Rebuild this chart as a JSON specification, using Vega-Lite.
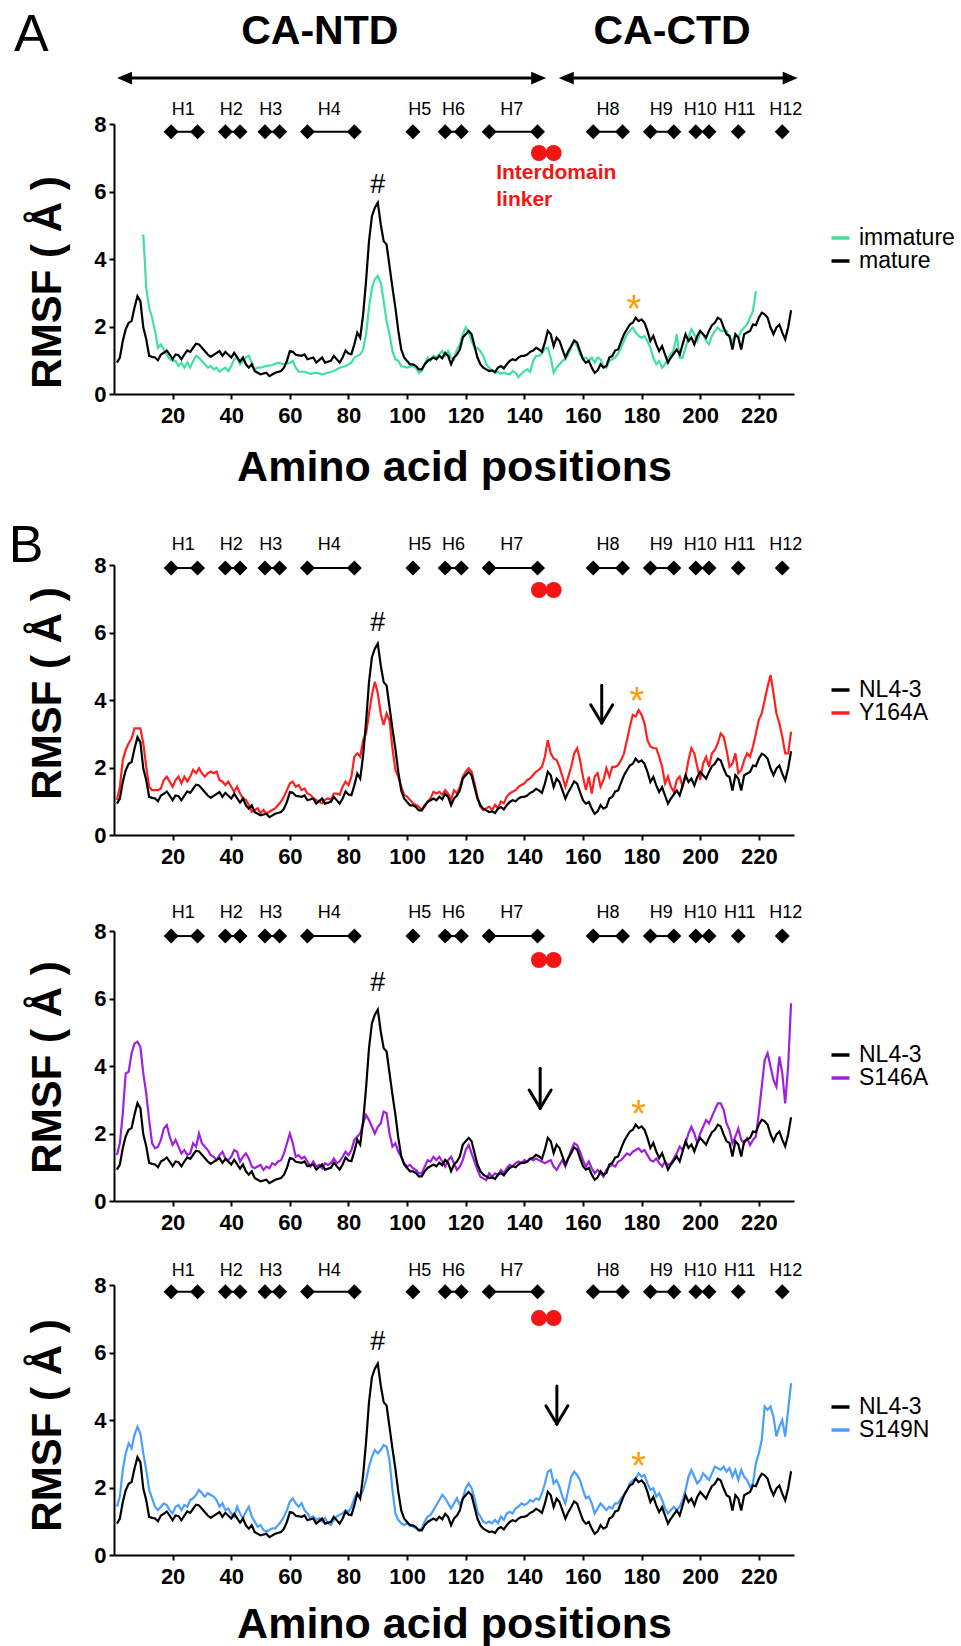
{
"$schema": "https://vega.github.io/schema/vega-lite/v6.json",
"padding": {"left": 8, "top": 0, "right": 0, "bottom": 2},
"bounds": "flush",
"spacing": 0,
"resolve": {"scale": {"x": "independent", "y": "independent", "color": "independent"}, "legend": {"color": "independent"}},
"config": {
  "view": {"stroke": null, "fill": "transparent"},
  "font": "Liberation Sans",
  "axis": {"domainColor": "#000", "domainWidth": 2, "tickColor": "#000", "tickWidth": 2, "tickSize": 5, "grid": false, "labelFont": "Liberation Sans", "labelFontWeight": "bold", "labelFontSize": 22, "labelColor": "#000", "titleColor": "#000", "labelOverlap": false, "labelFlush": false},
  "legend": {"title": null, "orient": "none", "symbolType": "stroke", "symbolStrokeWidth": 3.5, "symbolSize": 324, "labelFontSize": 23, "labelFont": "Liberation Sans", "labelOffset": 7, "rowPadding": 0, "clipHeight": 20, "padding": 0, "labelColor": "#000"},
  "text": {"font": "Liberation Sans", "color": "#000"}
},
"datasets": {
  "mature": [{"r":1,"v":0.93},{"r":2,"v":1.08},{"r":3,"v":1.57},{"r":4,"v":1.92},{"r":5,"v":2.11},{"r":6,"v":2.16},{"r":7,"v":2.56},{"r":8,"v":2.9},{"r":9,"v":2.75},{"r":10,"v":1.97},{"r":11,"v":1.62},{"r":12,"v":1.13},{"r":13,"v":1.1},{"r":14,"v":1.08},{"r":15,"v":1.0},{"r":16,"v":1.17},{"r":17,"v":1.22},{"r":18,"v":1.29},{"r":19,"v":1.17},{"r":20,"v":1.03},{"r":21,"v":1.17},{"r":22,"v":1.15},{"r":23,"v":1.03},{"r":24,"v":1.17},{"r":25,"v":1.29},{"r":26,"v":1.25},{"r":27,"v":1.37},{"r":28,"v":1.49},{"r":29,"v":1.47},{"r":30,"v":1.37},{"r":32,"v":1.17},{"r":33,"v":1.1},{"r":34,"v":1.16},{"r":36,"v":1.27},{"r":37,"v":1.13},{"r":38,"v":1.25},{"r":40,"v":1.08},{"r":41,"v":1.22},{"r":43,"v":0.96},{"r":44,"v":1.08},{"r":45,"v":0.88},{"r":46,"v":0.78},{"r":47,"v":0.88},{"r":48,"v":0.68},{"r":50,"v":0.58},{"r":52,"v":0.63},{"r":53,"v":0.53},{"r":55,"v":0.63},{"r":57,"v":0.68},{"r":58,"v":0.78},{"r":59,"v":0.98},{"r":60,"v":1.27},{"r":61,"v":1.25},{"r":62,"v":1.16},{"r":64,"v":1.13},{"r":65,"v":1.17},{"r":66,"v":1.03},{"r":68,"v":1.08},{"r":69,"v":0.93},{"r":71,"v":1.08},{"r":72,"v":0.93},{"r":74,"v":0.98},{"r":75,"v":1.13},{"r":77,"v":0.93},{"r":78,"v":1.08},{"r":79,"v":1.29},{"r":80,"v":1.2},{"r":81,"v":1.18},{"r":82,"v":1.47},{"r":83,"v":1.82},{"r":84,"v":1.67},{"r":85,"v":2.36},{"r":86,"v":3.35},{"r":87,"v":4.53},{"r":88,"v":5.27},{"r":89,"v":5.52},{"r":90,"v":5.67},{"r":91,"v":5.03},{"r":92,"v":4.53},{"r":93,"v":4.43},{"r":94,"v":3.79},{"r":95,"v":3.15},{"r":96,"v":2.56},{"r":97,"v":1.87},{"r":98,"v":1.32},{"r":99,"v":1.08},{"r":100,"v":0.98},{"r":101,"v":0.88},{"r":102,"v":0.88},{"r":103,"v":0.83},{"r":104,"v":0.73},{"r":105,"v":0.73},{"r":106,"v":0.88},{"r":107,"v":0.98},{"r":108,"v":1.03},{"r":109,"v":1.08},{"r":110,"v":1.03},{"r":111,"v":1.13},{"r":112,"v":1.06},{"r":113,"v":1.22},{"r":114,"v":1.13},{"r":115,"v":0.88},{"r":116,"v":1.08},{"r":117,"v":1.17},{"r":118,"v":1.32},{"r":119,"v":1.67},{"r":120,"v":1.77},{"r":121,"v":1.87},{"r":122,"v":1.77},{"r":123,"v":1.42},{"r":124,"v":1.08},{"r":125,"v":0.88},{"r":126,"v":0.78},{"r":127,"v":0.73},{"r":128,"v":0.68},{"r":129,"v":0.7},{"r":130,"v":0.65},{"r":131,"v":0.78},{"r":132,"v":0.83},{"r":133,"v":0.76},{"r":134,"v":0.88},{"r":135,"v":0.98},{"r":136,"v":1.03},{"r":137,"v":1.0},{"r":138,"v":1.08},{"r":139,"v":1.13},{"r":140,"v":1.13},{"r":141,"v":1.17},{"r":142,"v":1.25},{"r":143,"v":1.29},{"r":144,"v":1.37},{"r":145,"v":1.32},{"r":146,"v":1.25},{"r":147,"v":1.52},{"r":148,"v":1.87},{"r":149,"v":1.77},{"r":150,"v":1.42},{"r":151,"v":1.67},{"r":152,"v":1.57},{"r":153,"v":1.32},{"r":154,"v":1.08},{"r":155,"v":1.27},{"r":156,"v":1.42},{"r":157,"v":1.59},{"r":158,"v":1.52},{"r":159,"v":1.27},{"r":160,"v":1.03},{"r":161,"v":0.93},{"r":162,"v":0.98},{"r":163,"v":0.78},{"r":164,"v":0.63},{"r":165,"v":0.7},{"r":166,"v":0.88},{"r":167,"v":0.78},{"r":168,"v":0.83},{"r":169,"v":1.08},{"r":170,"v":1.13},{"r":171,"v":1.29},{"r":172,"v":1.32},{"r":173,"v":1.55},{"r":174,"v":1.77},{"r":175,"v":1.92},{"r":176,"v":2.06},{"r":177,"v":2.11},{"r":178,"v":2.26},{"r":179,"v":2.16},{"r":180,"v":2.21},{"r":181,"v":2.11},{"r":182,"v":1.87},{"r":183,"v":1.57},{"r":184,"v":1.72},{"r":185,"v":1.47},{"r":186,"v":1.27},{"r":187,"v":1.42},{"r":188,"v":1.17},{"r":189,"v":0.93},{"r":190,"v":1.08},{"r":191,"v":1.2},{"r":192,"v":1.32},{"r":193,"v":1.17},{"r":194,"v":1.47},{"r":195,"v":1.77},{"r":196,"v":1.57},{"r":197,"v":1.67},{"r":198,"v":1.47},{"r":199,"v":1.72},{"r":200,"v":1.87},{"r":201,"v":1.77},{"r":202,"v":1.67},{"r":203,"v":1.87},{"r":204,"v":2.04},{"r":205,"v":2.11},{"r":206,"v":2.26},{"r":207,"v":2.21},{"r":208,"v":1.97},{"r":209,"v":1.77},{"r":210,"v":1.72},{"r":211,"v":1.32},{"r":212,"v":1.77},{"r":213,"v":1.67},{"r":214,"v":1.32},{"r":215,"v":1.77},{"r":216,"v":1.82},{"r":217,"v":1.87},{"r":218,"v":2.06},{"r":219,"v":2.04},{"r":220,"v":2.26},{"r":221,"v":2.41},{"r":222,"v":2.36},{"r":223,"v":2.26},{"r":224,"v":1.97},{"r":225,"v":1.77},{"r":226,"v":1.97},{"r":227,"v":2.06},{"r":228,"v":1.82},{"r":229,"v":1.62},{"r":230,"v":1.97},{"r":231,"v":2.48}],
  "immature": [{"r":10,"v":4.73},{"r":11,"v":3.15},{"r":12,"v":2.56},{"r":13,"v":2.26},{"r":14,"v":1.87},{"r":15,"v":1.37},{"r":16,"v":1.47},{"r":17,"v":1.32},{"r":18,"v":1.17},{"r":19,"v":1.03},{"r":20,"v":0.98},{"r":21,"v":0.98},{"r":22,"v":0.83},{"r":23,"v":0.93},{"r":24,"v":0.78},{"r":25,"v":0.93},{"r":26,"v":0.78},{"r":27,"v":0.98},{"r":28,"v":1.13},{"r":29,"v":1.08},{"r":30,"v":0.98},{"r":31,"v":0.88},{"r":32,"v":0.78},{"r":33,"v":0.83},{"r":34,"v":0.73},{"r":35,"v":0.78},{"r":36,"v":0.66},{"r":37,"v":0.73},{"r":38,"v":0.78},{"r":39,"v":0.68},{"r":40,"v":0.83},{"r":41,"v":1.03},{"r":42,"v":1.08},{"r":43,"v":0.88},{"r":44,"v":0.98},{"r":45,"v":1.08},{"r":46,"v":1.13},{"r":47,"v":0.93},{"r":48,"v":0.73},{"r":49,"v":0.78},{"r":50,"v":0.78},{"r":52,"v":0.83},{"r":54,"v":0.86},{"r":56,"v":0.93},{"r":58,"v":0.88},{"r":60,"v":0.93},{"r":61,"v":0.98},{"r":62,"v":0.78},{"r":63,"v":0.66},{"r":65,"v":0.66},{"r":67,"v":0.6},{"r":69,"v":0.63},{"r":71,"v":0.58},{"r":73,"v":0.63},{"r":75,"v":0.68},{"r":77,"v":0.78},{"r":79,"v":0.83},{"r":80,"v":0.88},{"r":81,"v":0.93},{"r":82,"v":1.08},{"r":83,"v":1.13},{"r":84,"v":1.17},{"r":85,"v":1.32},{"r":86,"v":1.77},{"r":87,"v":2.56},{"r":88,"v":3.15},{"r":89,"v":3.4},{"r":90,"v":3.5},{"r":91,"v":3.3},{"r":92,"v":2.76},{"r":93,"v":2.16},{"r":94,"v":1.77},{"r":95,"v":1.27},{"r":96,"v":1.03},{"r":97,"v":0.98},{"r":98,"v":0.83},{"r":100,"v":0.78},{"r":102,"v":0.83},{"r":103,"v":0.78},{"r":104,"v":0.63},{"r":105,"v":0.68},{"r":106,"v":0.88},{"r":107,"v":1.08},{"r":108,"v":0.98},{"r":109,"v":1.13},{"r":110,"v":1.08},{"r":111,"v":1.18},{"r":112,"v":1.27},{"r":113,"v":1.13},{"r":114,"v":1.27},{"r":115,"v":1.08},{"r":116,"v":1.03},{"r":117,"v":1.32},{"r":118,"v":1.47},{"r":119,"v":1.77},{"r":120,"v":1.97},{"r":121,"v":1.82},{"r":122,"v":1.57},{"r":123,"v":1.37},{"r":124,"v":1.37},{"r":125,"v":1.27},{"r":126,"v":1.13},{"r":127,"v":0.88},{"r":128,"v":0.78},{"r":129,"v":0.7},{"r":130,"v":0.63},{"r":131,"v":0.66},{"r":132,"v":0.6},{"r":133,"v":0.63},{"r":134,"v":0.6},{"r":135,"v":0.58},{"r":136,"v":0.68},{"r":137,"v":0.63},{"r":138,"v":0.5},{"r":139,"v":0.6},{"r":140,"v":0.68},{"r":141,"v":0.73},{"r":142,"v":0.66},{"r":143,"v":0.98},{"r":144,"v":1.13},{"r":145,"v":1.13},{"r":146,"v":1.2},{"r":147,"v":1.35},{"r":148,"v":1.37},{"r":149,"v":1.08},{"r":150,"v":0.63},{"r":151,"v":0.78},{"r":152,"v":0.88},{"r":153,"v":0.98},{"r":154,"v":1.03},{"r":155,"v":1.17},{"r":156,"v":1.37},{"r":157,"v":1.57},{"r":158,"v":1.42},{"r":159,"v":1.17},{"r":160,"v":1.03},{"r":161,"v":1.08},{"r":162,"v":0.98},{"r":163,"v":1.08},{"r":164,"v":0.93},{"r":165,"v":1.08},{"r":166,"v":1.03},{"r":167,"v":0.83},{"r":168,"v":0.78},{"r":169,"v":0.98},{"r":170,"v":1.03},{"r":171,"v":1.08},{"r":172,"v":1.2},{"r":173,"v":1.37},{"r":174,"v":1.57},{"r":175,"v":1.77},{"r":176,"v":1.87},{"r":177,"v":1.97},{"r":178,"v":1.82},{"r":179,"v":1.72},{"r":180,"v":1.67},{"r":181,"v":1.72},{"r":182,"v":1.57},{"r":183,"v":1.37},{"r":184,"v":1.08},{"r":185,"v":0.88},{"r":186,"v":0.98},{"r":187,"v":0.78},{"r":188,"v":0.88},{"r":189,"v":1.08},{"r":190,"v":1.17},{"r":191,"v":1.32},{"r":192,"v":1.77},{"r":193,"v":1.08},{"r":194,"v":1.08},{"r":195,"v":1.37},{"r":196,"v":1.67},{"r":197,"v":1.92},{"r":198,"v":1.77},{"r":199,"v":1.57},{"r":200,"v":1.82},{"r":201,"v":1.77},{"r":202,"v":1.57},{"r":203,"v":1.47},{"r":204,"v":1.72},{"r":205,"v":1.87},{"r":206,"v":1.97},{"r":207,"v":1.87},{"r":208,"v":1.87},{"r":209,"v":1.87},{"r":210,"v":1.67},{"r":211,"v":1.57},{"r":212,"v":1.77},{"r":213,"v":1.67},{"r":214,"v":1.87},{"r":215,"v":1.97},{"r":216,"v":2.06},{"r":217,"v":2.26},{"r":218,"v":2.46},{"r":219,"v":3.05}],
  "y164a": [{"r":1,"v":1.04},{"r":2,"v":1.43},{"r":3,"v":2.22},{"r":4,"v":2.52},{"r":5,"v":2.72},{"r":6,"v":2.86},{"r":7,"v":3.16},{"r":8,"v":3.16},{"r":9,"v":3.16},{"r":10,"v":2.72},{"r":11,"v":2.02},{"r":12,"v":1.43},{"r":13,"v":1.33},{"r":14,"v":1.33},{"r":15,"v":1.33},{"r":16,"v":1.38},{"r":17,"v":1.63},{"r":18,"v":1.73},{"r":19,"v":1.58},{"r":20,"v":1.43},{"r":21,"v":1.63},{"r":22,"v":1.73},{"r":23,"v":1.53},{"r":24,"v":1.73},{"r":25,"v":1.58},{"r":26,"v":1.73},{"r":27,"v":1.93},{"r":28,"v":1.83},{"r":29,"v":1.98},{"r":30,"v":1.83},{"r":31,"v":1.73},{"r":32,"v":1.83},{"r":33,"v":1.88},{"r":34,"v":1.83},{"r":35,"v":1.88},{"r":36,"v":1.63},{"r":37,"v":1.58},{"r":38,"v":1.48},{"r":39,"v":1.58},{"r":40,"v":1.43},{"r":41,"v":1.28},{"r":42,"v":1.43},{"r":43,"v":1.23},{"r":44,"v":1.09},{"r":45,"v":1.04},{"r":46,"v":0.89},{"r":47,"v":0.69},{"r":48,"v":0.74},{"r":49,"v":0.79},{"r":50,"v":0.64},{"r":51,"v":0.74},{"r":52,"v":0.64},{"r":53,"v":0.69},{"r":54,"v":0.74},{"r":55,"v":0.79},{"r":56,"v":0.89},{"r":57,"v":0.99},{"r":58,"v":1.14},{"r":59,"v":1.33},{"r":60,"v":1.53},{"r":61,"v":1.58},{"r":62,"v":1.43},{"r":63,"v":1.48},{"r":64,"v":1.33},{"r":65,"v":1.38},{"r":66,"v":1.23},{"r":67,"v":1.19},{"r":68,"v":1.09},{"r":69,"v":1.04},{"r":70,"v":0.99},{"r":71,"v":0.94},{"r":72,"v":1.04},{"r":73,"v":1.09},{"r":74,"v":1.04},{"r":75,"v":1.23},{"r":76,"v":1.23},{"r":77,"v":1.19},{"r":78,"v":1.43},{"r":79,"v":1.58},{"r":80,"v":1.48},{"r":81,"v":1.73},{"r":82,"v":2.32},{"r":83,"v":2.42},{"r":84,"v":2.32},{"r":85,"v":2.81},{"r":86,"v":3.01},{"r":87,"v":3.6},{"r":88,"v":4.15},{"r":89,"v":4.54},{"r":90,"v":4.2},{"r":91,"v":3.6},{"r":92,"v":3.26},{"r":93,"v":3.6},{"r":94,"v":3.4},{"r":95,"v":2.57},{"r":96,"v":1.93},{"r":97,"v":1.73},{"r":98,"v":1.43},{"r":99,"v":1.19},{"r":100,"v":1.14},{"r":101,"v":1.04},{"r":102,"v":0.94},{"r":103,"v":0.89},{"r":104,"v":0.84},{"r":105,"v":0.74},{"r":106,"v":0.84},{"r":107,"v":0.99},{"r":108,"v":1.09},{"r":109,"v":1.28},{"r":110,"v":1.23},{"r":111,"v":1.28},{"r":112,"v":1.19},{"r":113,"v":1.33},{"r":114,"v":1.23},{"r":115,"v":1.04},{"r":116,"v":1.33},{"r":117,"v":1.23},{"r":118,"v":1.43},{"r":119,"v":1.73},{"r":120,"v":1.88},{"r":121,"v":1.98},{"r":122,"v":1.88},{"r":123,"v":1.53},{"r":124,"v":1.14},{"r":125,"v":0.84},{"r":126,"v":0.74},{"r":127,"v":0.79},{"r":128,"v":0.84},{"r":129,"v":0.74},{"r":130,"v":0.89},{"r":131,"v":0.79},{"r":132,"v":0.99},{"r":133,"v":0.94},{"r":134,"v":1.14},{"r":135,"v":1.23},{"r":136,"v":1.28},{"r":137,"v":1.33},{"r":138,"v":1.43},{"r":139,"v":1.48},{"r":140,"v":1.53},{"r":141,"v":1.63},{"r":142,"v":1.68},{"r":143,"v":1.78},{"r":144,"v":1.88},{"r":145,"v":1.93},{"r":146,"v":2.02},{"r":147,"v":2.32},{"r":148,"v":2.81},{"r":149,"v":2.42},{"r":150,"v":2.27},{"r":151,"v":2.22},{"r":152,"v":2.02},{"r":153,"v":1.73},{"r":154,"v":1.43},{"r":155,"v":1.73},{"r":156,"v":2.02},{"r":157,"v":2.42},{"r":158,"v":2.57},{"r":159,"v":2.22},{"r":160,"v":1.73},{"r":161,"v":1.33},{"r":162,"v":1.73},{"r":163,"v":1.23},{"r":164,"v":1.73},{"r":165,"v":1.83},{"r":166,"v":1.43},{"r":167,"v":1.63},{"r":168,"v":1.98},{"r":169,"v":1.73},{"r":170,"v":2.02},{"r":171,"v":2.02},{"r":172,"v":2.07},{"r":173,"v":2.22},{"r":174,"v":2.42},{"r":175,"v":2.81},{"r":176,"v":3.21},{"r":177,"v":3.56},{"r":178,"v":3.51},{"r":179,"v":3.7},{"r":180,"v":3.56},{"r":181,"v":3.31},{"r":182,"v":2.81},{"r":183,"v":2.62},{"r":184,"v":2.57},{"r":185,"v":2.57},{"r":186,"v":2.32},{"r":187,"v":2.02},{"r":188,"v":1.53},{"r":189,"v":1.73},{"r":190,"v":1.43},{"r":191,"v":1.28},{"r":192,"v":1.63},{"r":193,"v":1.73},{"r":194,"v":1.43},{"r":195,"v":1.73},{"r":196,"v":2.22},{"r":197,"v":2.57},{"r":198,"v":2.42},{"r":199,"v":2.02},{"r":200,"v":1.63},{"r":201,"v":2.12},{"r":202,"v":2.32},{"r":203,"v":2.02},{"r":204,"v":2.42},{"r":205,"v":2.52},{"r":206,"v":2.72},{"r":207,"v":3.01},{"r":208,"v":2.91},{"r":209,"v":2.52},{"r":210,"v":2.02},{"r":211,"v":2.12},{"r":212,"v":2.42},{"r":213,"v":1.83},{"r":214,"v":1.93},{"r":215,"v":2.22},{"r":216,"v":2.42},{"r":217,"v":2.32},{"r":218,"v":2.62},{"r":219,"v":3.01},{"r":220,"v":3.41},{"r":221,"v":3.6},{"r":222,"v":4.0},{"r":223,"v":4.4},{"r":224,"v":4.74},{"r":225,"v":4.2},{"r":226,"v":3.6},{"r":227,"v":3.31},{"r":228,"v":2.91},{"r":229,"v":2.42},{"r":230,"v":2.42},{"r":231,"v":3.06}],
  "s146a": [{"r":1,"v":1.36},{"r":2,"v":1.71},{"r":3,"v":2.6},{"r":4,"v":3.78},{"r":5,"v":3.83},{"r":6,"v":4.38},{"r":7,"v":4.67},{"r":8,"v":4.72},{"r":9,"v":4.57},{"r":10,"v":3.78},{"r":11,"v":3.19},{"r":12,"v":2.4},{"r":13,"v":1.71},{"r":14,"v":1.56},{"r":15,"v":1.61},{"r":16,"v":1.81},{"r":17,"v":2.15},{"r":18,"v":2.25},{"r":19,"v":1.91},{"r":20,"v":1.66},{"r":21,"v":1.81},{"r":22,"v":1.61},{"r":23,"v":1.41},{"r":24,"v":1.51},{"r":25,"v":1.36},{"r":26,"v":1.41},{"r":27,"v":1.71},{"r":28,"v":1.61},{"r":29,"v":2.0},{"r":30,"v":1.71},{"r":31,"v":1.61},{"r":32,"v":1.51},{"r":33,"v":1.36},{"r":34,"v":1.31},{"r":35,"v":1.21},{"r":36,"v":1.36},{"r":37,"v":1.46},{"r":38,"v":1.26},{"r":39,"v":1.21},{"r":40,"v":1.31},{"r":41,"v":1.51},{"r":42,"v":1.46},{"r":43,"v":1.17},{"r":44,"v":1.31},{"r":45,"v":1.41},{"r":46,"v":1.26},{"r":47,"v":1.02},{"r":48,"v":0.97},{"r":49,"v":1.02},{"r":50,"v":1.07},{"r":51,"v":0.92},{"r":52,"v":1.02},{"r":53,"v":0.97},{"r":54,"v":1.12},{"r":55,"v":1.07},{"r":56,"v":1.17},{"r":57,"v":1.21},{"r":58,"v":1.41},{"r":59,"v":1.71},{"r":60,"v":2.0},{"r":61,"v":1.71},{"r":62,"v":1.31},{"r":63,"v":1.36},{"r":64,"v":1.26},{"r":65,"v":1.31},{"r":66,"v":1.17},{"r":67,"v":1.02},{"r":68,"v":1.17},{"r":69,"v":1.02},{"r":70,"v":1.07},{"r":71,"v":0.97},{"r":72,"v":1.12},{"r":73,"v":1.07},{"r":74,"v":1.12},{"r":75,"v":1.26},{"r":76,"v":1.12},{"r":77,"v":1.17},{"r":78,"v":1.31},{"r":79,"v":1.46},{"r":80,"v":1.36},{"r":81,"v":1.51},{"r":82,"v":1.81},{"r":83,"v":1.91},{"r":84,"v":2.0},{"r":85,"v":2.3},{"r":86,"v":2.55},{"r":87,"v":2.4},{"r":88,"v":2.2},{"r":89,"v":2.0},{"r":90,"v":2.2},{"r":91,"v":2.3},{"r":92,"v":2.65},{"r":93,"v":2.6},{"r":94,"v":2.0},{"r":95,"v":1.61},{"r":96,"v":1.71},{"r":97,"v":1.46},{"r":98,"v":1.31},{"r":99,"v":1.12},{"r":100,"v":1.02},{"r":101,"v":1.07},{"r":102,"v":0.97},{"r":103,"v":0.92},{"r":104,"v":0.82},{"r":105,"v":0.82},{"r":106,"v":1.02},{"r":107,"v":1.21},{"r":108,"v":1.17},{"r":109,"v":1.31},{"r":110,"v":1.21},{"r":111,"v":1.31},{"r":112,"v":1.17},{"r":113,"v":1.02},{"r":114,"v":1.21},{"r":115,"v":1.31},{"r":116,"v":1.12},{"r":117,"v":0.92},{"r":118,"v":1.02},{"r":119,"v":1.21},{"r":120,"v":1.51},{"r":121,"v":1.66},{"r":122,"v":1.41},{"r":123,"v":1.17},{"r":124,"v":0.92},{"r":125,"v":0.72},{"r":126,"v":0.67},{"r":127,"v":0.62},{"r":128,"v":0.82},{"r":129,"v":0.72},{"r":130,"v":0.82},{"r":131,"v":0.77},{"r":132,"v":0.92},{"r":133,"v":0.82},{"r":134,"v":0.97},{"r":135,"v":1.07},{"r":136,"v":1.02},{"r":137,"v":1.12},{"r":138,"v":1.17},{"r":139,"v":1.12},{"r":140,"v":1.21},{"r":141,"v":1.17},{"r":142,"v":1.26},{"r":143,"v":1.21},{"r":144,"v":1.26},{"r":145,"v":1.21},{"r":146,"v":1.17},{"r":147,"v":1.12},{"r":148,"v":1.17},{"r":149,"v":1.21},{"r":150,"v":1.02},{"r":151,"v":0.92},{"r":152,"v":1.07},{"r":153,"v":1.21},{"r":154,"v":1.02},{"r":155,"v":1.26},{"r":156,"v":1.51},{"r":157,"v":1.71},{"r":158,"v":1.66},{"r":159,"v":1.46},{"r":160,"v":1.21},{"r":161,"v":1.02},{"r":162,"v":1.17},{"r":163,"v":0.97},{"r":164,"v":0.82},{"r":165,"v":0.92},{"r":166,"v":0.82},{"r":167,"v":0.72},{"r":168,"v":0.92},{"r":169,"v":1.02},{"r":170,"v":1.07},{"r":171,"v":1.02},{"r":172,"v":1.17},{"r":173,"v":1.21},{"r":174,"v":1.31},{"r":175,"v":1.41},{"r":176,"v":1.36},{"r":177,"v":1.46},{"r":178,"v":1.51},{"r":179,"v":1.56},{"r":180,"v":1.46},{"r":181,"v":1.51},{"r":182,"v":1.36},{"r":183,"v":1.21},{"r":184,"v":1.17},{"r":185,"v":1.26},{"r":186,"v":1.12},{"r":187,"v":1.02},{"r":188,"v":1.17},{"r":189,"v":1.07},{"r":190,"v":1.12},{"r":191,"v":1.26},{"r":192,"v":1.41},{"r":193,"v":1.61},{"r":194,"v":1.51},{"r":195,"v":1.71},{"r":196,"v":2.0},{"r":197,"v":2.2},{"r":198,"v":2.0},{"r":199,"v":1.71},{"r":200,"v":2.0},{"r":201,"v":2.2},{"r":202,"v":2.4},{"r":203,"v":2.3},{"r":204,"v":2.5},{"r":205,"v":2.7},{"r":206,"v":2.89},{"r":207,"v":2.89},{"r":208,"v":2.7},{"r":209,"v":2.3},{"r":210,"v":2.1},{"r":211,"v":1.71},{"r":212,"v":1.91},{"r":213,"v":2.15},{"r":214,"v":1.81},{"r":215,"v":1.71},{"r":216,"v":1.86},{"r":217,"v":1.66},{"r":218,"v":1.81},{"r":219,"v":1.91},{"r":220,"v":2.6},{"r":221,"v":3.39},{"r":222,"v":4.18},{"r":223,"v":4.38},{"r":224,"v":3.98},{"r":225,"v":3.59},{"r":226,"v":3.39},{"r":227,"v":4.28},{"r":228,"v":3.78},{"r":229,"v":2.89},{"r":230,"v":3.98},{"r":231,"v":5.86}],
  "s149n": [{"r":1,"v":1.43},{"r":2,"v":1.73},{"r":3,"v":2.52},{"r":4,"v":3.01},{"r":5,"v":3.31},{"r":6,"v":3.16},{"r":7,"v":3.56},{"r":8,"v":3.8},{"r":9,"v":3.6},{"r":10,"v":3.01},{"r":11,"v":2.52},{"r":12,"v":1.93},{"r":13,"v":1.68},{"r":14,"v":1.43},{"r":15,"v":1.33},{"r":16,"v":1.43},{"r":17,"v":1.53},{"r":18,"v":1.48},{"r":19,"v":1.33},{"r":20,"v":1.23},{"r":21,"v":1.43},{"r":22,"v":1.48},{"r":23,"v":1.33},{"r":24,"v":1.48},{"r":25,"v":1.43},{"r":26,"v":1.63},{"r":27,"v":1.68},{"r":28,"v":1.78},{"r":29,"v":1.93},{"r":30,"v":1.83},{"r":31,"v":1.73},{"r":32,"v":1.83},{"r":33,"v":1.78},{"r":34,"v":1.73},{"r":35,"v":1.63},{"r":36,"v":1.43},{"r":37,"v":1.53},{"r":38,"v":1.33},{"r":39,"v":1.38},{"r":40,"v":1.23},{"r":41,"v":1.14},{"r":42,"v":1.43},{"r":43,"v":1.23},{"r":44,"v":1.09},{"r":45,"v":1.28},{"r":46,"v":1.43},{"r":47,"v":1.14},{"r":48,"v":0.99},{"r":49,"v":0.84},{"r":50,"v":0.89},{"r":51,"v":0.74},{"r":52,"v":0.69},{"r":53,"v":0.74},{"r":54,"v":0.79},{"r":55,"v":0.79},{"r":56,"v":0.89},{"r":57,"v":0.99},{"r":58,"v":1.14},{"r":59,"v":1.33},{"r":60,"v":1.58},{"r":61,"v":1.68},{"r":62,"v":1.53},{"r":63,"v":1.43},{"r":64,"v":1.53},{"r":65,"v":1.33},{"r":66,"v":1.23},{"r":67,"v":1.09},{"r":68,"v":1.14},{"r":69,"v":1.04},{"r":70,"v":1.09},{"r":71,"v":0.99},{"r":72,"v":1.09},{"r":73,"v":0.94},{"r":74,"v":0.89},{"r":75,"v":1.04},{"r":76,"v":1.14},{"r":77,"v":1.19},{"r":78,"v":1.23},{"r":79,"v":1.33},{"r":80,"v":1.28},{"r":81,"v":1.43},{"r":82,"v":1.68},{"r":83,"v":1.83},{"r":84,"v":1.73},{"r":85,"v":1.93},{"r":86,"v":2.22},{"r":87,"v":2.62},{"r":88,"v":2.91},{"r":89,"v":3.11},{"r":90,"v":3.01},{"r":91,"v":3.11},{"r":92,"v":3.26},{"r":93,"v":3.21},{"r":94,"v":2.81},{"r":95,"v":1.93},{"r":96,"v":1.23},{"r":97,"v":1.04},{"r":98,"v":0.94},{"r":99,"v":0.89},{"r":100,"v":0.94},{"r":101,"v":0.89},{"r":102,"v":0.84},{"r":103,"v":0.79},{"r":104,"v":0.74},{"r":105,"v":0.79},{"r":106,"v":0.99},{"r":107,"v":1.14},{"r":108,"v":1.19},{"r":109,"v":1.33},{"r":110,"v":1.48},{"r":111,"v":1.63},{"r":112,"v":1.78},{"r":113,"v":1.68},{"r":114,"v":1.53},{"r":115,"v":1.38},{"r":116,"v":1.53},{"r":117,"v":1.68},{"r":118,"v":1.48},{"r":119,"v":1.68},{"r":120,"v":1.98},{"r":121,"v":2.12},{"r":122,"v":1.98},{"r":123,"v":1.68},{"r":124,"v":1.28},{"r":125,"v":1.14},{"r":126,"v":0.99},{"r":127,"v":0.94},{"r":128,"v":0.99},{"r":129,"v":0.94},{"r":130,"v":1.04},{"r":131,"v":0.94},{"r":132,"v":1.14},{"r":133,"v":1.04},{"r":134,"v":1.23},{"r":135,"v":1.28},{"r":136,"v":1.23},{"r":137,"v":1.38},{"r":138,"v":1.43},{"r":139,"v":1.53},{"r":140,"v":1.48},{"r":141,"v":1.53},{"r":142,"v":1.63},{"r":143,"v":1.58},{"r":144,"v":1.68},{"r":145,"v":1.63},{"r":146,"v":1.83},{"r":147,"v":2.12},{"r":148,"v":2.47},{"r":149,"v":2.52},{"r":150,"v":2.12},{"r":151,"v":2.22},{"r":152,"v":2.02},{"r":153,"v":1.73},{"r":154,"v":1.53},{"r":155,"v":1.93},{"r":156,"v":2.32},{"r":157,"v":2.47},{"r":158,"v":2.37},{"r":159,"v":2.22},{"r":160,"v":1.93},{"r":161,"v":1.68},{"r":162,"v":1.73},{"r":163,"v":1.53},{"r":164,"v":1.23},{"r":165,"v":1.38},{"r":166,"v":1.53},{"r":167,"v":1.43},{"r":168,"v":1.33},{"r":169,"v":1.43},{"r":170,"v":1.38},{"r":171,"v":1.53},{"r":172,"v":1.53},{"r":173,"v":1.68},{"r":174,"v":1.78},{"r":175,"v":1.93},{"r":176,"v":2.12},{"r":177,"v":2.22},{"r":178,"v":2.27},{"r":179,"v":2.42},{"r":180,"v":2.32},{"r":181,"v":2.37},{"r":182,"v":2.12},{"r":183,"v":1.93},{"r":184,"v":1.98},{"r":185,"v":1.73},{"r":186,"v":1.83},{"r":187,"v":1.63},{"r":188,"v":1.38},{"r":189,"v":1.23},{"r":190,"v":1.33},{"r":191,"v":1.43},{"r":192,"v":1.33},{"r":193,"v":1.43},{"r":194,"v":1.63},{"r":195,"v":1.93},{"r":196,"v":2.32},{"r":197,"v":2.52},{"r":198,"v":2.32},{"r":199,"v":2.12},{"r":200,"v":2.22},{"r":201,"v":2.42},{"r":202,"v":2.32},{"r":203,"v":2.22},{"r":204,"v":2.42},{"r":205,"v":2.62},{"r":206,"v":2.57},{"r":207,"v":2.52},{"r":208,"v":2.62},{"r":209,"v":2.47},{"r":210,"v":2.57},{"r":211,"v":2.32},{"r":212,"v":2.52},{"r":213,"v":2.22},{"r":214,"v":2.52},{"r":215,"v":2.32},{"r":216,"v":2.22},{"r":217,"v":2.02},{"r":218,"v":2.12},{"r":219,"v":2.72},{"r":220,"v":3.01},{"r":221,"v":3.41},{"r":222,"v":4.4},{"r":223,"v":4.3},{"r":224,"v":4.4},{"r":225,"v":4.1},{"r":226,"v":3.51},{"r":227,"v":3.8},{"r":228,"v":4.0},{"r":229,"v":3.51},{"r":230,"v":4.3},{"r":231,"v":5.09}],
  "helixSeg": [{"a":19.5,"b":28.5},{"a":38,"b":43},{"a":51.5,"b":56.5},{"a":66,"b":82},{"a":113,"b":118.5},{"a":128,"b":144.5},{"a":163.5,"b":173.5},{"a":183,"b":191},{"a":198.5,"b":203}],
  "helixEnd": [{"x":19.5},{"x":28.5},{"x":38},{"x":43},{"x":51.5},{"x":56.5},{"x":66},{"x":82},{"x":102},{"x":113},{"x":118.5},{"x":128},{"x":144.5},{"x":163.5},{"x":173.5},{"x":183},{"x":191},{"x":198.5},{"x":203},{"x":213},{"x":228}],
  "helixLabel": [{"x":23.6,"t":"H1"},{"x":40,"t":"H2"},{"x":53.5,"t":"H3"},{"x":73.4,"t":"H4"},{"x":104.3,"t":"H5"},{"x":115.8,"t":"H6"},{"x":135.7,"t":"H7"},{"x":168.5,"t":"H8"},{"x":186.7,"t":"H9"},{"x":200,"t":"H10"},{"x":213.5,"t":"H11"},{"x":229.2,"t":"H12"}],
  "linker": [{"x":145},{"x":150}]
},
"vconcat": [
  {
    "width": 680, "height": 394,
    "layer": [
      {"data": {"name": "immature"}, "mark": {"type": "line", "strokeWidth": 2.2},
       "encoding": {
         "x": {"field": "r", "type": "quantitative", "scale": {"domain": [0, 232], "nice": false, "zero": false},
               "axis": {"values": [20,40,60,80,100,120,140,160,180,200,220], "labelPadding": 6, "title": "Amino acid positions", "titleFontSize": 43, "titleFontWeight": "bold", "titleBaseline": "middle", "titleY": 73}},
         "y": {"field": "v", "type": "quantitative", "scale": {"domain": [0, 8], "range": [394, 124], "nice": false, "zero": false},
               "axis": {"values": [0,2,4,6,8], "format": "d", "labelPadding": 3, "title": "RMSF ( Å )", "titleFontSize": 42, "titleFontWeight": "bold", "titleAngle": -90, "titleAlign": "center", "titleBaseline": "middle", "titleX": -67, "titleY": 282}},
         "color": {"datum": "immature", "type": "nominal", "scale": {"domain": ["immature", "mature"], "range": ["#40e0a0", "#000000"]},
                   "legend": {"legendX": 715, "legendY": 228}}
       }},
      {"data": {"name": "mature"}, "mark": {"type": "line", "strokeWidth": 2.2},
       "encoding": {"x": {"field": "r", "type": "quantitative"}, "y": {"field": "v", "type": "quantitative"}, "color": {"datum": "mature", "type": "nominal"}}},
      {"data": {"name": "helixSeg"}, "mark": {"type": "rule", "strokeWidth": 2, "color": "#000"},
       "encoding": {"x": {"field": "a", "type": "quantitative"}, "x2": {"field": "b"}, "y": {"datum": 7.77}}},
      {"data": {"name": "helixEnd"}, "mark": {"type": "point", "shape": "diamond", "filled": true, "color": "#000", "size": 225, "opacity": 1},
       "encoding": {"x": {"field": "x", "type": "quantitative"}, "y": {"datum": 7.77}}},
      {"data": {"name": "helixLabel"}, "mark": {"type": "text", "fontSize": 18, "baseline": "middle"},
       "encoding": {"x": {"field": "x", "type": "quantitative"}, "y": {"datum": 8.41}, "text": {"field": "t"}}},
      {"data": {"name": "linker"}, "mark": {"type": "point", "shape": "circle", "filled": true, "color": "#f41414", "size": 256, "opacity": 1},
       "encoding": {"x": {"field": "x", "type": "quantitative"}, "y": {"datum": 7.14}}},
      {"data": {"values": [{"x": 130.4, "y": 6.55, "t": "Interdomain"}, {"x": 130.4, "y": 5.75, "t": "linker"}]},
       "mark": {"type": "text", "fontSize": 21, "fontWeight": "bold", "color": "#f41414", "align": "left", "baseline": "middle"},
       "encoding": {"x": {"field": "x", "type": "quantitative"}, "y": {"field": "y", "type": "quantitative"}, "text": {"field": "t"}}},
      {"data": {"values": [{"x": 90, "y": 6.19, "t": "#"}]}, "mark": {"type": "text", "fontSize": 27, "baseline": "middle"},
       "encoding": {"x": {"field": "x", "type": "quantitative"}, "y": {"field": "y", "type": "quantitative"}, "text": {"field": "t"}}},
      {"data": {"values": [{"x": 177.4, "y": 2.79, "t": "*"}]}, "mark": {"type": "text", "fontSize": 38, "baseline": "middle", "dy": 11, "color": "#ff9c00"},
       "encoding": {"x": {"field": "x", "type": "quantitative"}, "y": {"field": "y", "type": "quantitative"}, "text": {"field": "t"}}},
      {"data": {"values": [{"a": 3, "b": 145}, {"a": 154, "b": 231}]}, "mark": {"type": "rule", "strokeWidth": 3, "color": "#000"},
       "encoding": {"x": {"field": "a", "type": "quantitative"}, "x2": {"field": "b"}, "y": {"datum": 9.36}}},
      {"data": {"values": [{"x": 3.6}, {"x": 154.3}]}, "mark": {"type": "point", "shape": "M1,-0.85L-1,0L1,0.85Z", "filled": true, "color": "#000", "size": 225, "opacity": 1},
       "encoding": {"x": {"field": "x", "type": "quantitative"}, "y": {"datum": 9.36}}},
      {"data": {"values": [{"x": 144.9}, {"x": 230.7}]}, "mark": {"type": "point", "shape": "M-1,-0.85L1,0L-1,0.85Z", "filled": true, "color": "#000", "size": 225, "opacity": 1},
       "encoding": {"x": {"field": "x", "type": "quantitative"}, "y": {"datum": 9.36}}},
      {"data": {"values": [{"x": 70.2, "y": 10.72, "t": "CA-NTD"}, {"x": 190.4, "y": 10.72, "t": "CA-CTD"}]},
       "mark": {"type": "text", "fontSize": 41, "fontWeight": "bold", "baseline": "middle"},
       "encoding": {"x": {"field": "x", "type": "quantitative"}, "y": {"field": "y", "type": "quantitative"}, "text": {"field": "t"}}},
      {"data": {"values": [{"x": -28.2, "y": 10.65, "t": "A"}]}, "mark": {"type": "text", "fontSize": 52, "baseline": "middle"},
       "encoding": {"x": {"field": "x", "type": "quantitative"}, "y": {"field": "y", "type": "quantitative"}, "text": {"field": "t"}}}
    ]
  },
  {
    "width": 680, "height": 441,
    "layer": [
      {"data": {"name": "y164a"}, "mark": {"type": "line", "strokeWidth": 2.2},
       "encoding": {
         "x": {"field": "r", "type": "quantitative", "scale": {"domain": [0, 232], "nice": false, "zero": false},
               "axis": {"values": [20,40,60,80,100,120,140,160,180,200,220], "labelPadding": 6, "title": null}},
         "y": {"field": "v", "type": "quantitative", "scale": {"domain": [0, 8], "range": [441, 171], "nice": false, "zero": false},
               "axis": {"values": [0,2,4,6,8], "format": "d", "labelPadding": 3, "title": "RMSF ( Å )", "titleFontSize": 42, "titleFontWeight": "bold", "titleAngle": -90, "titleAlign": "center", "titleBaseline": "middle", "titleX": -67, "titleY": 299}},
         "color": {"datum": "Y164A", "type": "nominal", "scale": {"domain": ["NL4-3", "Y164A"], "range": ["#000000", "#ff2020"]},
                   "legend": {"legendX": 715, "legendY": 286}}
       }},
      {"data": {"name": "mature"}, "mark": {"type": "line", "strokeWidth": 2.2},
       "encoding": {"x": {"field": "r", "type": "quantitative"}, "y": {"field": "v", "type": "quantitative"}, "color": {"datum": "NL4-3", "type": "nominal"}}},
      {"data": {"name": "helixSeg"}, "mark": {"type": "rule", "strokeWidth": 2, "color": "#000"},
       "encoding": {"x": {"field": "a", "type": "quantitative"}, "x2": {"field": "b"}, "y": {"datum": 7.91}}},
      {"data": {"name": "helixEnd"}, "mark": {"type": "point", "shape": "diamond", "filled": true, "color": "#000", "size": 225, "opacity": 1},
       "encoding": {"x": {"field": "x", "type": "quantitative"}, "y": {"datum": 7.91}}},
      {"data": {"name": "helixLabel"}, "mark": {"type": "text", "fontSize": 18, "baseline": "middle"},
       "encoding": {"x": {"field": "x", "type": "quantitative"}, "y": {"datum": 8.59}, "text": {"field": "t"}}},
      {"data": {"name": "linker"}, "mark": {"type": "point", "shape": "circle", "filled": true, "color": "#f41414", "size": 256, "opacity": 1},
       "encoding": {"x": {"field": "x", "type": "quantitative"}, "y": {"datum": 7.26}}},
      {"data": {"values": [{"x": 90, "y": 6.28, "t": "#"}]}, "mark": {"type": "text", "fontSize": 27, "baseline": "middle"},
       "encoding": {"x": {"field": "x", "type": "quantitative"}, "y": {"field": "y", "type": "quantitative"}, "text": {"field": "t"}}},
      {"data": {"values": [{"x": 178.4, "y": 4.24, "t": "*"}]}, "mark": {"type": "text", "fontSize": 38, "baseline": "middle", "dy": 11, "color": "#ff9c00"},
       "encoding": {"x": {"field": "x", "type": "quantitative"}, "y": {"field": "y", "type": "quantitative"}, "text": {"field": "t"}}},
      {"data": {"values": [{"x": 166.4, "y": 4.44, "x2": 166.4, "y2": 3.32}, {"x": 162.65, "y": 3.86, "x2": 166.4, "y2": 3.32}, {"x": 170.15, "y": 3.86, "x2": 166.4, "y2": 3.32}]},
       "mark": {"type": "rule", "strokeWidth": 3, "color": "#000", "strokeCap": "round"},
       "encoding": {"x": {"field": "x", "type": "quantitative"}, "y": {"field": "y", "type": "quantitative"}, "x2": {"field": "x2"}, "y2": {"field": "y2"}}},
      {"data": {"values": [{"x": -30, "y": 8.57, "t": "B"}]}, "mark": {"type": "text", "fontSize": 52, "baseline": "middle"},
       "encoding": {"x": {"field": "x", "type": "quantitative"}, "y": {"field": "y", "type": "quantitative"}, "text": {"field": "t"}}}
    ]
  },
  {
    "width": 680, "height": 366,
    "layer": [
      {"data": {"name": "s146a"}, "mark": {"type": "line", "strokeWidth": 2.2},
       "encoding": {
         "x": {"field": "r", "type": "quantitative", "scale": {"domain": [0, 232], "nice": false, "zero": false},
               "axis": {"values": [20,40,60,80,100,120,140,160,180,200,220], "labelPadding": 6, "title": null}},
         "y": {"field": "v", "type": "quantitative", "scale": {"domain": [0, 8], "range": [366, 96], "nice": false, "zero": false},
               "axis": {"values": [0,2,4,6,8], "format": "d", "labelPadding": 3, "title": "RMSF ( Å )", "titleFontSize": 42, "titleFontWeight": "bold", "titleAngle": -90, "titleAlign": "center", "titleBaseline": "middle", "titleX": -67, "titleY": 232}},
         "color": {"datum": "S146A", "type": "nominal", "scale": {"domain": ["NL4-3", "S146A"], "range": ["#000000", "#a020e0"]},
                   "legend": {"legendX": 715, "legendY": 210}}
       }},
      {"data": {"name": "mature"}, "mark": {"type": "line", "strokeWidth": 2.2},
       "encoding": {"x": {"field": "r", "type": "quantitative"}, "y": {"field": "v", "type": "quantitative"}, "color": {"datum": "NL4-3", "type": "nominal"}}},
      {"data": {"name": "helixSeg"}, "mark": {"type": "rule", "strokeWidth": 2, "color": "#000"},
       "encoding": {"x": {"field": "a", "type": "quantitative"}, "x2": {"field": "b"}, "y": {"datum": 7.85}}},
      {"data": {"name": "helixEnd"}, "mark": {"type": "point", "shape": "diamond", "filled": true, "color": "#000", "size": 225, "opacity": 1},
       "encoding": {"x": {"field": "x", "type": "quantitative"}, "y": {"datum": 7.85}}},
      {"data": {"name": "helixLabel"}, "mark": {"type": "text", "fontSize": 18, "baseline": "middle"},
       "encoding": {"x": {"field": "x", "type": "quantitative"}, "y": {"datum": 8.53}, "text": {"field": "t"}}},
      {"data": {"name": "linker"}, "mark": {"type": "point", "shape": "circle", "filled": true, "color": "#f41414", "size": 256, "opacity": 1},
       "encoding": {"x": {"field": "x", "type": "quantitative"}, "y": {"datum": 7.14}}},
      {"data": {"values": [{"x": 90, "y": 6.46, "t": "#"}]}, "mark": {"type": "text", "fontSize": 27, "baseline": "middle"},
       "encoding": {"x": {"field": "x", "type": "quantitative"}, "y": {"field": "y", "type": "quantitative"}, "text": {"field": "t"}}},
      {"data": {"values": [{"x": 179, "y": 2.84, "t": "*"}]}, "mark": {"type": "text", "fontSize": 38, "baseline": "middle", "dy": 11, "color": "#ff9c00"},
       "encoding": {"x": {"field": "x", "type": "quantitative"}, "y": {"field": "y", "type": "quantitative"}, "text": {"field": "t"}}},
      {"data": {"values": [{"x": 145.4, "y": 3.93, "x2": 145.4, "y2": 2.75}, {"x": 141.65, "y": 3.29, "x2": 145.4, "y2": 2.75}, {"x": 149.15, "y": 3.29, "x2": 145.4, "y2": 2.75}]},
       "mark": {"type": "rule", "strokeWidth": 3, "color": "#000", "strokeCap": "round"},
       "encoding": {"x": {"field": "x", "type": "quantitative"}, "y": {"field": "y", "type": "quantitative"}, "x2": {"field": "x2"}, "y2": {"field": "y2"}}}
    ]
  },
  {
    "width": 680, "height": 354,
    "layer": [
      {"data": {"name": "s149n"}, "mark": {"type": "line", "strokeWidth": 2.2},
       "encoding": {
         "x": {"field": "r", "type": "quantitative", "scale": {"domain": [0, 232], "nice": false, "zero": false},
               "axis": {"values": [20,40,60,80,100,120,140,160,180,200,220], "labelPadding": 6, "title": "Amino acid positions", "titleFontSize": 43, "titleFontWeight": "bold", "titleBaseline": "middle", "titleY": 69}},
         "y": {"field": "v", "type": "quantitative", "scale": {"domain": [0, 8], "range": [354, 84], "nice": false, "zero": false},
               "axis": {"values": [0,2,4,6,8], "format": "d", "labelPadding": 3, "title": "RMSF ( Å )", "titleFontSize": 42, "titleFontWeight": "bold", "titleAngle": -90, "titleAlign": "center", "titleBaseline": "middle", "titleX": -67, "titleY": 224}},
         "color": {"datum": "S149N", "type": "nominal", "scale": {"domain": ["NL4-3", "S149N"], "range": ["#000000", "#4a9eff"]},
                   "legend": {"legendX": 715, "legendY": 196}}
       }},
      {"data": {"name": "mature"}, "mark": {"type": "line", "strokeWidth": 2.2},
       "encoding": {"x": {"field": "r", "type": "quantitative"}, "y": {"field": "v", "type": "quantitative"}, "color": {"datum": "NL4-3", "type": "nominal"}}},
      {"data": {"name": "helixSeg"}, "mark": {"type": "rule", "strokeWidth": 2, "color": "#000"},
       "encoding": {"x": {"field": "a", "type": "quantitative"}, "x2": {"field": "b"}, "y": {"datum": 7.8}}},
      {"data": {"name": "helixEnd"}, "mark": {"type": "point", "shape": "diamond", "filled": true, "color": "#000", "size": 225, "opacity": 1},
       "encoding": {"x": {"field": "x", "type": "quantitative"}, "y": {"datum": 7.8}}},
      {"data": {"name": "helixLabel"}, "mark": {"type": "text", "fontSize": 18, "baseline": "middle"},
       "encoding": {"x": {"field": "x", "type": "quantitative"}, "y": {"datum": 8.41}, "text": {"field": "t"}}},
      {"data": {"name": "linker"}, "mark": {"type": "point", "shape": "circle", "filled": true, "color": "#f41414", "size": 256, "opacity": 1},
       "encoding": {"x": {"field": "x", "type": "quantitative"}, "y": {"datum": 7.02}}},
      {"data": {"values": [{"x": 90, "y": 6.31, "t": "#"}]}, "mark": {"type": "text", "fontSize": 27, "baseline": "middle"},
       "encoding": {"x": {"field": "x", "type": "quantitative"}, "y": {"field": "y", "type": "quantitative"}, "text": {"field": "t"}}},
      {"data": {"values": [{"x": 179, "y": 2.9, "t": "*"}]}, "mark": {"type": "text", "fontSize": 38, "baseline": "middle", "dy": 11, "color": "#ff9c00"},
       "encoding": {"x": {"field": "x", "type": "quantitative"}, "y": {"field": "y", "type": "quantitative"}, "text": {"field": "t"}}},
      {"data": {"values": [{"x": 151.1, "y": 5.01, "x2": 151.1, "y2": 3.88}, {"x": 147.35, "y": 4.42, "x2": 151.1, "y2": 3.88}, {"x": 154.85, "y": 4.42, "x2": 151.1, "y2": 3.88}]},
       "mark": {"type": "rule", "strokeWidth": 3, "color": "#000", "strokeCap": "round"},
       "encoding": {"x": {"field": "x", "type": "quantitative"}, "y": {"field": "y", "type": "quantitative"}, "x2": {"field": "x2"}, "y2": {"field": "y2"}}}
    ]
  }
]
}
